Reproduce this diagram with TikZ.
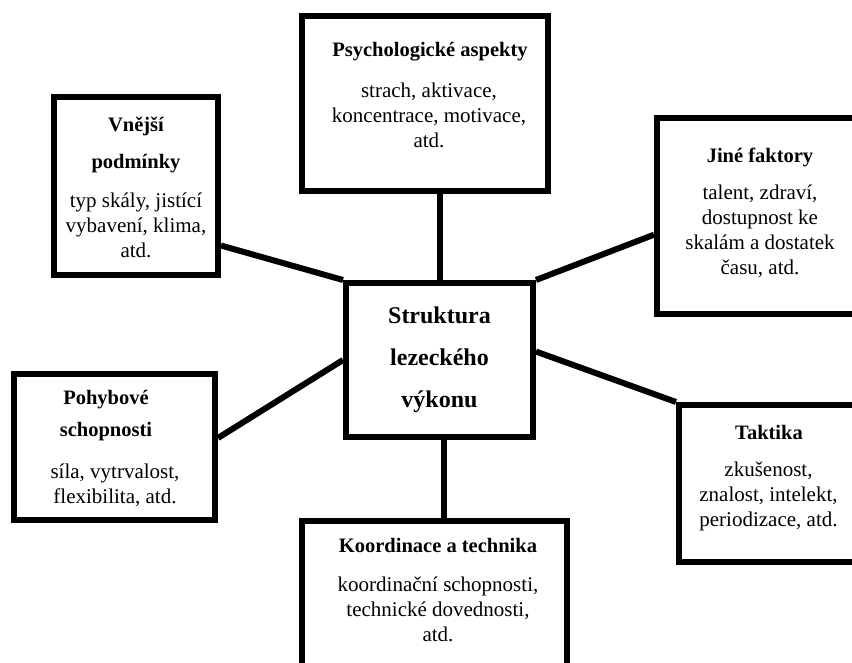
\documentclass[tikz,border=0pt]{standalone}
\usepackage{fontspec}
\setmainfont{Liberation Serif}
\usetikzlibrary{calc}
\tikzset{
  lezbox/.style={draw=black,line width=6pt,inner sep=0pt},
  leztitle/.style={font=\fontsize{20.5}{26}\selectfont\bfseries,align=center,inner sep=0pt},
  leztext/.style={font=\fontsize{21}{25}\selectfont,align=center,inner sep=0pt},
  lezcore/.style={lezbox,font=\fontsize{24}{42}\selectfont\bfseries,align=center},
  lezlink/.style={line width=6pt,black}
}
\begin{document}
\begin{tikzpicture}[x=1pt,y=-1pt]
  \useasboundingbox (0,0) rectangle (852,663);
  \clip (0,0) rectangle (852,663);

  % boxes
  \node[lezcore,minimum width=187pt,minimum height=154pt] (struktura) at (439.5,360)
    {Struktura\\lezeckého\\výkonu};
  \node[lezbox,minimum width=164pt,minimum height=178pt] (vnejsi) at (136,186) {};
  \node[lezbox,minimum width=246pt,minimum height=175pt] (psych) at (425,103.5) {};
  \node[lezbox,minimum width=206pt,minimum height=196pt] (jine) at (760,216) {};
  \node[lezbox,minimum width=201pt,minimum height=146pt] (pohyb) at (114.5,447) {};
  \node[lezbox,minimum width=265pt,minimum height=159pt] (koord) at (434.5,600.5) {};
  \node[lezbox,minimum width=178pt,minimum height=157pt] (taktika) at (768,483.5) {};

  % texts
  \node[leztitle] (vnejsiT) at (136,144.5) {Vnější\\[11pt]podmínky};
  \node[leztext] (vnejsiB) at (136,225) {typ skály, jistící\\vybavení, klima,\\atd.};
  \node[leztitle] (psychT) at (430,52) {Psychologické aspekty};
  \node[leztext] (psychB) at (429,115) {strach, aktivace,\\koncentrace, motivace,\\atd.};
  \node[leztitle] (jineT) at (760,157) {Jiné faktory};
  \node[leztext] (jineB) at (760,231.5) {talent, zdraví,\\dostupnost ke\\skalám a dostatek\\času, atd.};
  \node[leztitle] (pohybT) at (106,416) {Pohybové\\[6pt]schopnosti};
  \node[leztext] (pohybB) at (115,485.5) {síla, vytrvalost,\\flexibilita, atd.};
  \node[leztitle] (koordT) at (438,545) {Koordinace a technika};
  \node[leztext] (koordB) at (438,609) {koordinační schopnosti,\\technické dovednosti,\\atd.};
  \node[leztitle] (taktikaT) at (769,432) {Taktika};
  \node[leztext] (taktikaB) at (768.5,496) {zkušenost,\\znalost, intelekt,\\periodizace, atd.};

  % links
  \draw[lezlink] (vnejsi.-35) -- (struktura.north west);
  \draw[lezlink] (psych.south -| struktura.north) -- (struktura.north);
  \draw[lezlink] (jine.190) -- (struktura.north east);
  \draw[lezlink] (pohyb.5) -- (struktura.west);
  \draw[lezlink] (struktura.-87) -- (struktura.-87 |- koord.north);
  \draw[lezlink] (struktura.5) -- (taktika.north west);
\end{tikzpicture}
\end{document}
